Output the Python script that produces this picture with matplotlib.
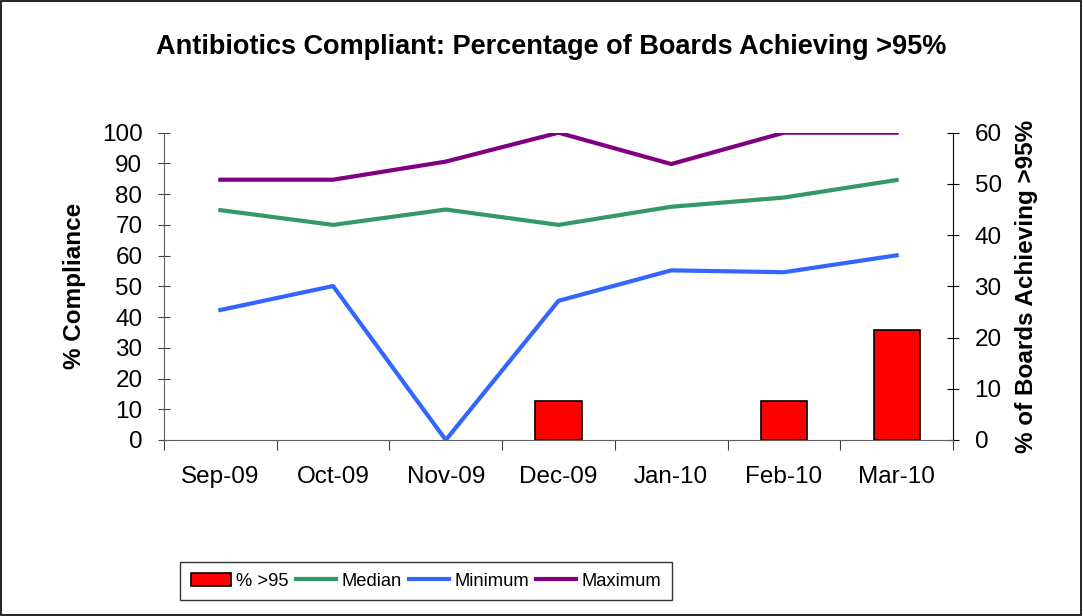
import numpy as np
import matplotlib.pyplot as plt
from matplotlib.patches import Rectangle, Patch

plt.rcParams['font.family'] = ['Liberation Sans', 'DejaVu Sans']

months = ['Sep-09', 'Oct-09', 'Nov-09', 'Dec-09', 'Jan-10', 'Feb-10', 'Mar-10']
pct_over_95 = [0, 0, 0, 7.7, 0, 7.7, 21.4]
median = [74.8, 70.0, 75.0, 70.0, 75.9, 78.9, 84.6]
minimum = [42.3, 50.1, 0.0, 45.3, 55.2, 54.6, 60.1]
maximum = [84.7, 84.7, 90.6, 100.0, 89.8, 100.0, 100.0]

fig = plt.figure(figsize=(10.83, 6.16), dpi=100)
fig.patches.append(Rectangle((0.0005, 0.001), 0.998, 0.997, transform=fig.transFigure,
                             fill=False, edgecolor='black', linewidth=1.2))

ax = fig.add_axes([164 / 1083, 1 - 440 / 616, (953 - 164) / 1083, (440 - 132.7) / 616])
ax2 = ax.twinx()
ax.set_zorder(ax2.get_zorder() + 1)
ax.patch.set_visible(False)

x = np.arange(len(months))

# bars on the secondary axis (empty months drawn as nothing)
bars = ax2.bar(x, pct_over_95, width=0.41, color='#FF0000', edgecolor='black', linewidth=1.2)
for b, v in zip(bars, pct_over_95):
    if v == 0:
        b.set_visible(False)
l1, = ax.plot(x, median, color='#339966', linewidth=3, label='Median')
l2, = ax.plot(x, minimum, color='#3366FF', linewidth=3, label='Minimum')
l3, = ax.plot(x, maximum, color='#800080', linewidth=3, label='Maximum')
bar_proxy = Patch(facecolor='#FF0000', edgecolor='black', linewidth=1.2)

ax.set_xlim(-0.5, len(months) - 0.5)
ax.set_ylim(0, 100)
ax2.set_ylim(0, 60)
ax.set_yticks(range(0, 101, 10))
ax2.set_yticks(range(0, 61, 10))

# Excel style: ticks between categories, labels in the middle
ax.set_xticks(np.arange(-0.5, len(months), 1.0))
ax.set_xticklabels([])
ax.set_xticks(x, minor=True)
ax.set_xticklabels(months, minor=True, fontsize=17.5)
ax.tick_params(axis='x', which='major', direction='out', length=7, color='#404040')
ax.tick_params(axis='x', which='minor', length=0, pad=19)
ax.tick_params(axis='y', direction='inout', length=9, color='#404040', labelsize=17.5, pad=11)
ax2.tick_params(axis='y', direction='inout', length=9, color='black', labelsize=17.5, pad=11)

for a in (ax, ax2):
    a.spines['top'].set_visible(False)
ax.spines['left'].set_color('#606060')
ax.spines['bottom'].set_color('#606060')
ax.spines['right'].set_visible(False)
ax2.spines['left'].set_visible(False)
ax2.spines['bottom'].set_visible(False)
ax2.spines['right'].set_color('black')

fig.text(551 / 1083, 1 - 47 / 616, 'Antibiotics Compliant: Percentage of Boards Achieving >95%',
         ha='center', va='center', fontsize=19.5, fontweight='bold')
fig.text(74 / 1083, 1 - 286 / 616, '% Compliance', rotation=90, ha='center', va='center',
         fontsize=17.5, fontweight='bold')
fig.text(1026 / 1083, 1 - 286 / 616, '% of Boards Achieving >95%', rotation=90, ha='center',
         va='center', fontsize=17.5, fontweight='bold')

leg = fig.legend([bar_proxy, l1, l2, l3], ['% >95', 'Median', 'Minimum', 'Maximum'],
                 loc='center', bbox_to_anchor=(426 / 1083, 1 - 581 / 616), ncol=4,
                 fontsize=13.2, frameon=True, fancybox=False, edgecolor='black',
                 handlelength=2.2, handletextpad=0.3, columnspacing=0.37, borderpad=0.55)
leg.get_frame().set_linewidth(1.0)

fig.savefig('out.png', dpi=100)
